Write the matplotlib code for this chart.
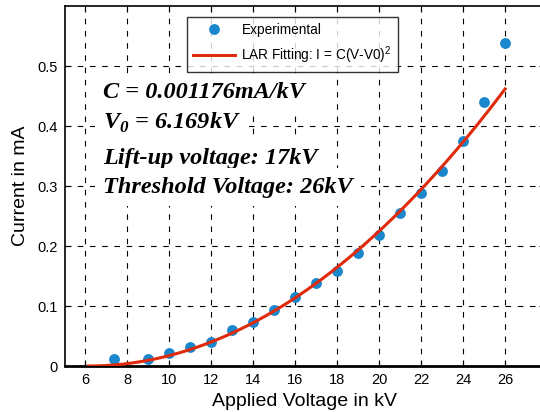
import numpy as np
import matplotlib
matplotlib.use("Agg")
import matplotlib.pyplot as plt

# measured points (kV, mA)
voltage_kv = [7.4, 9, 10, 11, 12, 13, 14, 15, 16, 17, 18, 19, 20, 21, 22, 23, 24, 25, 26]
current_ma = [0.011, 0.011, 0.021, 0.032, 0.040, 0.060, 0.073, 0.093, 0.115, 0.139,
              0.159, 0.188, 0.219, 0.255, 0.288, 0.326, 0.376, 0.440, 0.540]

# LAR fit parameters shown on the chart
fit_c = 0.001176
fit_v0 = 6.169
fit_vmax = 26

x_ticks = [6, 8, 10, 12, 14, 16, 18, 20, 22, 24, 26]
y_ticks = [0, 0.1, 0.2, 0.3, 0.4, 0.5]

annotations = [
    "C = 0.001176mA/kV",
    "V$_\\mathbf{0}$ = 6.169kV",
    "Lift-up voltage: 17kV",
    "Threshold Voltage: 26kV",
]

plt.rcParams["font.family"] = ["Liberation Sans", "DejaVu Sans"]
plt.rcParams["mathtext.fontset"] = "custom"
plt.rcParams["mathtext.rm"] = "Liberation Sans"
plt.rcParams["mathtext.bf"] = "Liberation Serif:bold:italic"

fig = plt.figure(figsize=(5.4, 4.12), dpi=100)
ax = fig.add_axes([65 / 540, 1 - 366 / 412, 480 / 540, 360 / 412])

fit_x = np.linspace(fit_v0, fit_vmax, 200)
fit_y = fit_c * (fit_x - fit_v0) ** 2

ax.plot(voltage_kv, current_ma, "o", color="#1a86cc", markersize=7.8,
        markeredgewidth=0, label="Experimental", zorder=3)
ax.plot(fit_x, fit_y, "-", color="#e02a0c", linewidth=2.2,
        label="LAR Fitting: I = C(V-V0)$^2$", zorder=4)

ax.set_xlim(5.05, 27.9)
ax.set_ylim(0, 0.601)
ax.set_xticks(x_ticks)
ax.set_yticks(y_ticks)
ax.set_yticklabels(["0", "0.1", "0.2", "0.3", "0.4", "0.5"])
ax.tick_params(direction="in", length=4, labelsize=10.5, top=True, right=True, pad=5)
ax.grid(True, color="black", linestyle=(0, (5, 6)), linewidth=0.8)
ax.set_axisbelow(True)
for side in ["left", "top"]:
    ax.spines[side].set_linewidth(1.2)
ax.spines["bottom"].set_linewidth(2)

ax.set_xlabel("Applied Voltage in kV", fontsize=14, labelpad=4)
ax.set_ylabel("Current in mA", fontsize=14, labelpad=6)

text_y = [93, 123, 158, 187]
for label, ypix in zip(annotations, text_y):
    ax.text(103 / 540, 1 - ypix / 412, label, transform=fig.transFigure,
            family=["Liberation Serif", "DejaVu Serif"], fontsize=17.5,
            fontweight="bold", fontstyle="italic", va="center", ha="left",
            bbox=dict(facecolor="white", edgecolor="none", pad=6), zorder=5)

leg = ax.legend(loc="upper left", bbox_to_anchor=(187 / 540, 1 - 17 / 412),
                bbox_transform=fig.transFigure, fontsize=9.8, frameon=True,
                fancybox=False, borderpad=0.45, borderaxespad=0,
                handlelength=3.1, handletextpad=0.45, labelspacing=0.55)
leg.get_frame().set_edgecolor("black")
leg.get_frame().set_linewidth(1)
leg.set_zorder(6)

fig.savefig("out.png", dpi=100)
